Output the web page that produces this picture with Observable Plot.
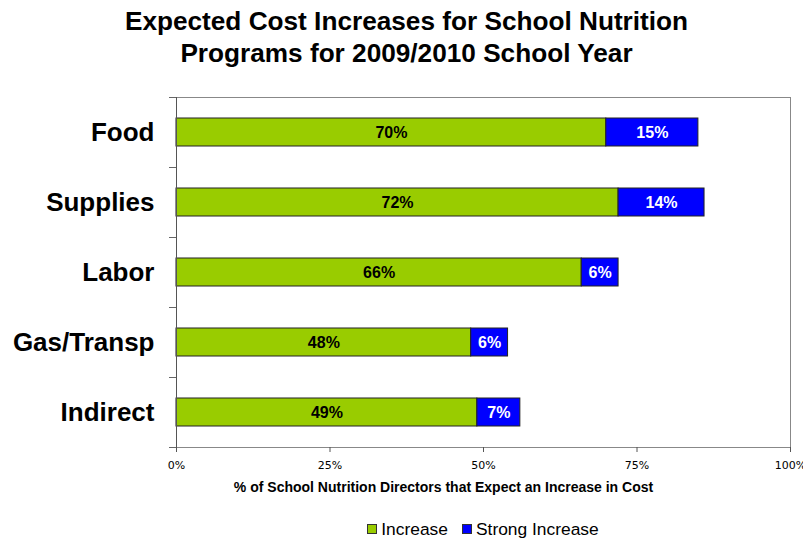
<!DOCTYPE html>
<html>
<head>
<meta charset="utf-8">
<script src="https://cdn.jsdelivr.net/npm/d3@7"></script>
<script src="https://cdn.jsdelivr.net/npm/@observablehq/plot@0.6"></script>
<style>
  html, body { margin: 0; padding: 0; background: #fff; }
  body { width: 803px; height: 539px; overflow: hidden; font-family: "Liberation Sans", Arial, sans-serif; }
  #title { text-align: center; font-weight: bold; font-size: 26.2px; line-height: 32px; padding-top: 5px; height: 65px; padding-left: 10px; color: #000; }
  #chart svg { display: block; }
  #legend { display: flex; justify-content: center; align-items: center; padding-left: 163px; padding-top: 2px; height: 24px; font-size: 17.4px; color: #000; }
  .sw { display: inline-block; width: 8px; height: 8px; border: 1px solid #333; margin-right: 4px; }
  .item { display: flex; align-items: center; margin: 0 7px; }
</style>
</head>
<body>
<div id="title">Expected Cost Increases for School Nutrition<br>Programs for 2009/2010 School Year</div>
<div id="chart"></div>
<div id="legend"></div>
<script>
const categories = ["Food", "Supplies", "Labor", "Gas/Transp", "Indirect"];
const seriesNames = ["Increase", "Strong Increase"];
const increase = [70, 72, 66, 48, 49];
const strongIncrease = [15, 14, 6, 6, 7];
const seriesColors = ["#99CC00", "#0000FF"];
const labelColors = ["#000000", "#FFFFFF"];
const xTicks = [0, 25, 50, 75, 100];
const xLabel = "% of School Nutrition Directors that Expect an Increase in Cost";

const rows = [];
categories.forEach((c, i) => {
  rows.push({cat: c, series: seriesNames[0], value: increase[i]});
  rows.push({cat: c, series: seriesNames[1], value: strongIncrease[i]});
});

const stackOpts = {x: "value", y: "cat", z: "series", order: seriesNames};

const labelMarks = seriesNames.map((s, i) =>
  Plot.text(rows, Plot.stackX({
    ...stackOpts,
    text: d => d.series === s ? d.value + "%" : "",
    fill: labelColors[i],
    fontWeight: "bold",
    fontSize: 16
  }))
);

const chart = Plot.plot({
  width: 803,
  height: 445,
  marginLeft: 176,
  marginRight: 13,
  marginTop: 27,
  marginBottom: 68,
  style: {fontFamily: "'Liberation Sans', Arial, sans-serif", background: "#fff"},
  x: {domain: [0, 100]},
  y: {domain: categories, paddingInner: 0.6, paddingOuter: 0.3},
  color: {domain: seriesNames, range: seriesColors},
  marks: [
    Plot.frame({stroke: "#888", strokeWidth: 1}),
    Plot.barX(rows, Plot.stackX({...stackOpts, fill: "series", stroke: "#222", strokeWidth: 1})),
    ...labelMarks,
    Plot.ruleX([0], {stroke: "#555"}),
    Plot.axisY({tickSize: 0, tickPadding: 22, fontSize: 26, fontWeight: "bold", fill: "#000", label: null}),
    Plot.axisY({tickSize: 7, tickFormat: () => "", dy: -35, stroke: "#666", label: null}),
    Plot.axisY({ticks: [categories[categories.length - 1]], tickSize: 7, tickFormat: () => "", dy: 35, stroke: "#666", label: null}),
    Plot.axisX({ticks: xTicks, tickFormat: d => d + "%", tickSize: 5, tickPadding: 9, fontSize: 11, fontFamily: "'DejaVu Sans', sans-serif", stroke: "#555", fill: "#000", label: null}),
    Plot.text([xLabel], {frameAnchor: "bottom", dy: 44, dx: -40, fontSize: 14, fontWeight: "bold", fill: "#000"})
  ]
});
document.getElementById("chart").appendChild(chart);

const legend = document.getElementById("legend");
seriesNames.forEach((s, i) => {
  const item = document.createElement("span");
  item.className = "item";
  const sw = document.createElement("span");
  sw.className = "sw";
  sw.style.background = seriesColors[i];
  item.appendChild(sw);
  item.appendChild(document.createTextNode(s));
  legend.appendChild(item);
});
</script>
</body>
</html>
